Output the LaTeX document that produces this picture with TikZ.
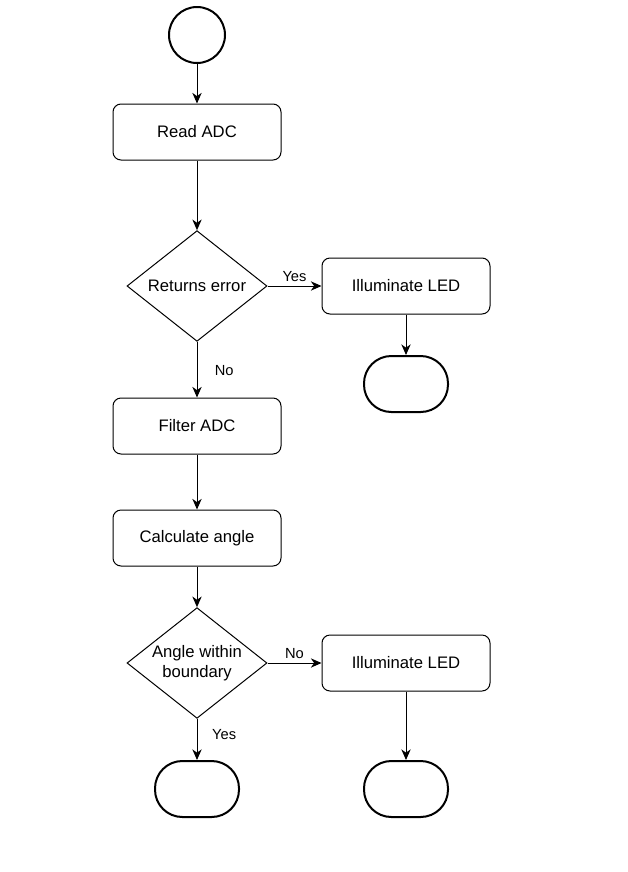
\documentclass[tikz,border=0pt]{standalone}
\usepackage{fontspec}
\setmainfont{Liberation Sans}
\usetikzlibrary{arrows.meta, positioning, shapes.geometric}

\begin{document}
\begin{tikzpicture}[x=0.75pt, y=-0.75pt,
        font=\fontsize{12.5}{15}\selectfont,
        every path/.style={line width=0.75pt},
        process/.style={draw, rectangle, rounded corners=6pt, minimum width=126pt, minimum height=42pt, align=center},
        decision/.style={draw, diamond, aspect=1.26, minimum width=105pt, minimum height=83pt, inner sep=0pt, align=center},
        terminal/.style={draw, rectangle, rounded corners=20.5pt, line width=1.5pt, minimum width=63pt, minimum height=42pt},
        flow/.style={-{Stealth[length=8pt, width=7pt, inset=2.5pt]}},
        answer/.style={font=\fontsize{11}{13}\selectfont, inner sep=2pt}]
        \useasboundingbox (0,0) rectangle (628,872);
        % Main column of the flowchart
        \node[draw, circle, line width=1.5pt, minimum size=42pt] (start) at (197,35) {};
        \node[process] (read) at (197,132) {Read ADC};
        \node[decision] (error) at (197,286) {Returns error};
        \node[process] (ledA) at (406,286) {Illuminate LED};
        \node[terminal] (stopA) at (406,384) {};
        \node[process] (filter) at (197,426) {Filter ADC};
        \node[process] (angle) at (197,538) {Calculate angle};
        \node[decision] (bound) at (197,663) {Angle within\\boundary};
        \node[process] (ledB) at (406,663) {Illuminate LED};
        \node[terminal] (stopB) at (197,789) {};
        \node[terminal] (stopC) at (406,789) {};

        \draw[flow] (start) -- (read);
        \draw[flow] (read) -- (error);
        \draw[flow] (error) -- node[answer, above, yshift=1pt] {Yes} (ledA);
        \draw[flow] (ledA) -- (stopA);
        \draw[flow] (error) -- node[answer, right, xshift=11pt, yshift=-1pt] {No} (filter);
        \draw[flow] (filter) -- (angle);
        \draw[flow] (angle) -- (bound);
        \draw[flow] (bound) -- node[answer, above, yshift=1pt] {No} (ledB);
        \draw[flow] (ledB) -- (stopC);
        \draw[flow] (bound) -- node[answer, right, xshift=9pt, yshift=4pt] {Yes} (stopB);
    \end{tikzpicture}
\end{document}
